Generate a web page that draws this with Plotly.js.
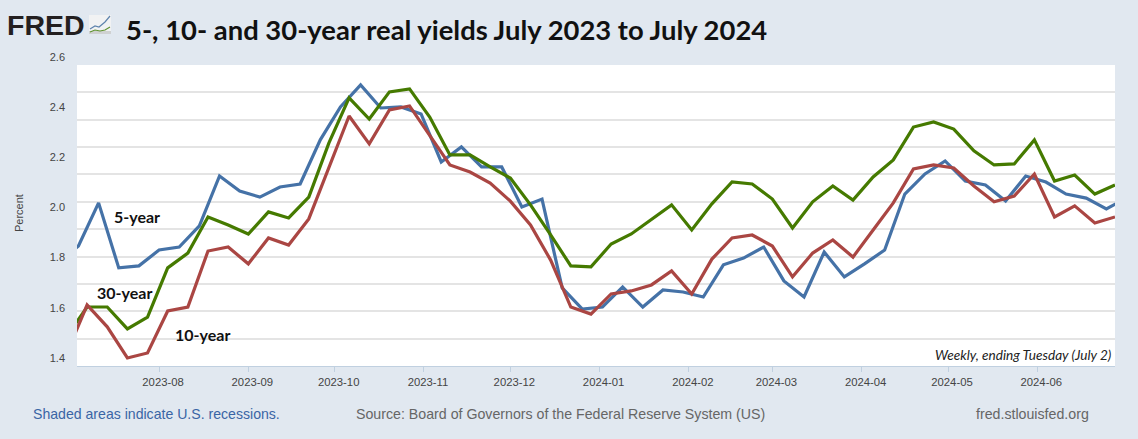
<!DOCTYPE html>
<html><head><meta charset="utf-8">
<script src="https://cdn.plot.ly/plotly-3.0.1.min.js"></script>
<style>html,body{margin:0;padding:0;background:#e1e8f0;overflow:hidden}#c{width:1138px;height:439px}</style>
</head><body><div id="c"></div>
<script>
var tuesdayDates=["2023-06-27","2023-07-04","2023-07-11","2023-07-18","2023-07-25","2023-08-01","2023-08-08","2023-08-15","2023-08-22","2023-08-29","2023-09-05","2023-09-12","2023-09-19","2023-09-26","2023-10-03","2023-10-10","2023-10-17","2023-10-24","2023-10-31","2023-11-07","2023-11-14","2023-11-21","2023-11-28","2023-12-05","2023-12-12","2023-12-19","2023-12-26","2024-01-02","2024-01-09","2024-01-16","2024-01-23","2024-01-30","2024-02-06","2024-02-13","2024-02-20","2024-02-27","2024-03-05","2024-03-12","2024-03-19","2024-03-26","2024-04-02","2024-04-09","2024-04-16","2024-04-23","2024-04-30","2024-05-07","2024-05-14","2024-05-21","2024-05-28","2024-06-04","2024-06-11","2024-06-18","2024-06-25","2024-07-02"];
var fridayDates=["2023-06-30","2023-07-07","2023-07-14","2023-07-21","2023-07-28","2023-08-04","2023-08-11","2023-08-18","2023-08-25","2023-09-01","2023-09-08","2023-09-15","2023-09-22","2023-09-29","2023-10-06","2023-10-13","2023-10-20","2023-10-27","2023-11-03","2023-11-10","2023-11-17","2023-11-24","2023-12-01","2023-12-08","2023-12-15","2023-12-22","2023-12-29","2024-01-05","2024-01-12","2024-01-19","2024-01-26","2024-02-02","2024-02-09","2024-02-16","2024-02-23","2024-03-01","2024-03-08","2024-03-15","2024-03-22","2024-03-29","2024-04-05","2024-04-12","2024-04-19","2024-04-26","2024-05-03","2024-05-10","2024-05-17","2024-05-24","2024-05-31","2024-06-07","2024-06-14","2024-06-21","2024-06-28"];
var fiveYear=[1.782,1.846,2.018,1.759,1.767,1.830,1.842,1.926,2.125,2.065,2.041,2.081,2.093,2.269,2.400,2.488,2.396,2.400,2.372,2.181,2.241,2.161,2.161,2.002,2.033,1.679,1.595,1.603,1.683,1.603,1.671,1.663,1.643,1.771,1.798,1.842,1.707,1.643,1.822,1.723,1.775,1.830,2.053,2.133,2.185,2.105,2.089,2.025,2.125,2.101,2.053,2.037,1.994,2.037];
var thirtyYear=[1.488,1.603,1.603,1.516,1.563,1.759,1.818,1.962,1.930,1.894,1.982,1.958,2.041,2.257,2.436,2.352,2.460,2.472,2.360,2.209,2.209,2.161,2.117,2.010,1.890,1.767,1.763,1.854,1.894,1.954,2.010,1.910,2.014,2.101,2.093,2.033,1.918,2.022,2.085,2.029,2.121,2.189,2.320,2.340,2.312,2.225,2.169,2.173,2.269,2.105,2.129,2.053,2.089];
var tenYear=[1.420,1.611,1.524,1.400,1.420,1.587,1.603,1.826,1.842,1.775,1.878,1.850,1.954,2.157,2.364,2.253,2.388,2.404,2.288,2.169,2.141,2.097,2.025,1.930,1.790,1.603,1.575,1.655,1.667,1.691,1.747,1.655,1.794,1.878,1.890,1.846,1.723,1.818,1.870,1.802,1.910,2.018,2.153,2.169,2.157,2.085,2.022,2.045,2.133,1.962,2.006,1.938,1.962];
var yTicks=[1.4,1.6,1.8,2.0,2.2,2.4,2.6];
var yGrid=[1.476,1.587,1.695,1.802,1.914,2.022,2.133,2.241,2.348,2.460];
var xTicks=["2023-08-01","2023-09-01","2023-10-01","2023-11-01","2023-12-01","2024-01-01","2024-02-01","2024-03-01","2024-04-01","2024-05-01","2024-06-01"];

var L=77,R=1115,T=50,B=366,W=1138,H=439;
function fx(p){return (p-L)/(R-L);}
function fy(p){return (B-p)/(B-T);}
function note(text,px,py,anchor,font,extra){
  return Object.assign({text:text,x:fx(px),y:fy(py),xref:'paper',yref:'paper',xanchor:anchor,yanchor:'middle',showarrow:false,font:font},extra||{});
}
var LATO='Lato, Carlito, sans-serif', ARIAL='"Liberation Sans", Arial, sans-serif';
var labelFont={family:LATO,size:16,color:'#111',weight:700};
var footFont={family:ARIAL,size:14.2,color:'#666'};
function line(c){return {color:c,width:3.2,shape:'linear'};}
var traces=[
 {type:'scatter',mode:'none',x:[],y:[],yaxis:'y2',showlegend:false,hoverinfo:'skip'},
 {type:'scatter',mode:'lines',name:'5-year',x:tuesdayDates,y:fiveYear,line:line('#4572A7')},
 {type:'scatter',mode:'lines',name:'30-year',x:fridayDates,y:thirtyYear,line:line('#457a00')},
 {type:'scatter',mode:'lines',name:'10-year',x:fridayDates,y:tenYear,line:line('#AA4643')}
];
var yRange=[1.368,2.627];
var layout={
 width:W,height:H,paper_bgcolor:'#e1e8f0',plot_bgcolor:'rgba(0,0,0,0)',showlegend:false,
 margin:{l:L,r:W-R,t:T,b:H-B,pad:0},
 title:{text:'5-, 10- and 30-year real yields July 2023 to July 2024',x:126/W,xanchor:'left',xref:'container',y:1-30/H,yanchor:'middle',font:{family:LATO,size:27.4,color:'#111',weight:700}},
 xaxis:{type:'date',range:['2023-07-03 12:00','2024-06-28'],tickmode:'array',tickvals:xTicks,tickformat:'%Y-%m',showgrid:false,zeroline:false,
   ticks:'outside',ticklen:5,tickwidth:1,tickcolor:'#c0d0e0',showline:true,linecolor:'#c0d0e0',linewidth:1,ticklabelshift:4,
   tickfont:{family:ARIAL,size:11.3,color:'#444'}},
 yaxis:{range:yRange,tickmode:'array',tickvals:yTicks,tickformat:'.1f',showgrid:false,zeroline:false,showline:false,ticks:'',ticklabelstandoff:11,
   tickfont:{family:ARIAL,size:11,color:'#444'}},
 yaxis2:{range:yRange,overlaying:'y',side:'left',tickmode:'array',tickvals:yGrid,showticklabels:false,ticks:'',showgrid:true,gridcolor:'#e4e4e4',gridwidth:1.3,zeroline:false,showline:false},
 shapes:[
  {type:'rect',layer:'below',xref:'paper',yref:'paper',x0:0,x1:1,y0:0,y1:fy(65),fillcolor:'#ffffff',line:{width:0}},
  {type:'rect',layer:'above',xref:'paper',yref:'paper',x0:fx(89),x1:fx(111),y0:fy(31),y1:fy(15),fillcolor:'#f1f2f3',line:{width:0}},
  {type:'rect',layer:'above',xref:'paper',yref:'paper',x0:fx(89),x1:fx(111),y0:fy(34),y1:fy(31),fillcolor:'#cfd1d2',line:{width:0}},
  {type:'path',layer:'above',xref:'paper',yref:'paper',path:'M'+fx(90)+','+fy(29)+' L'+fx(95)+','+fy(26)+' L'+fx(99)+','+fy(27)+' L'+fx(105)+','+fy(22)+' L'+fx(110)+','+fy(16),line:{color:'#5f84ad',width:1.2}},
  {type:'path',layer:'above',xref:'paper',yref:'paper',path:'M'+fx(90)+','+fy(32)+' L'+fx(95)+','+fy(30)+' L'+fx(100)+','+fy(31)+' L'+fx(105)+','+fy(30)+' L'+fx(110)+','+fy(27),line:{color:'#5f9230',width:1.2}}
 ],
 annotations:[
  note('FRED',5,25,'left',{family:ARIAL,size:28.5,color:'#231f20',weight:700}),
  note('Percent',19,213,'center',{family:ARIAL,size:11,color:'#444'},{textangle:-90}),
  note('5-year',112,216,'left',labelFont),
  note('30-year',95,292,'left',labelFont),
  note('10-year',173,334,'left',labelFont),
  note('<i>Weekly, ending Tuesday (July 2)</i>',1113,355,'right',{family:LATO,size:13.6,color:'#222'}),
  note('Shaded areas indicate U.S. recessions.',31,414,'left',{family:ARIAL,size:14.1,color:'#3a65a5'}),
  note('Source: Board of Governors of the Federal Reserve System (US)',354,414,'left',footFont),
  note('fred.stlouisfed.org',974,414,'left',footFont)
 ]
};
Plotly.newPlot('c',traces,layout,{displayModeBar:false,staticPlot:true});
</script></body></html>
